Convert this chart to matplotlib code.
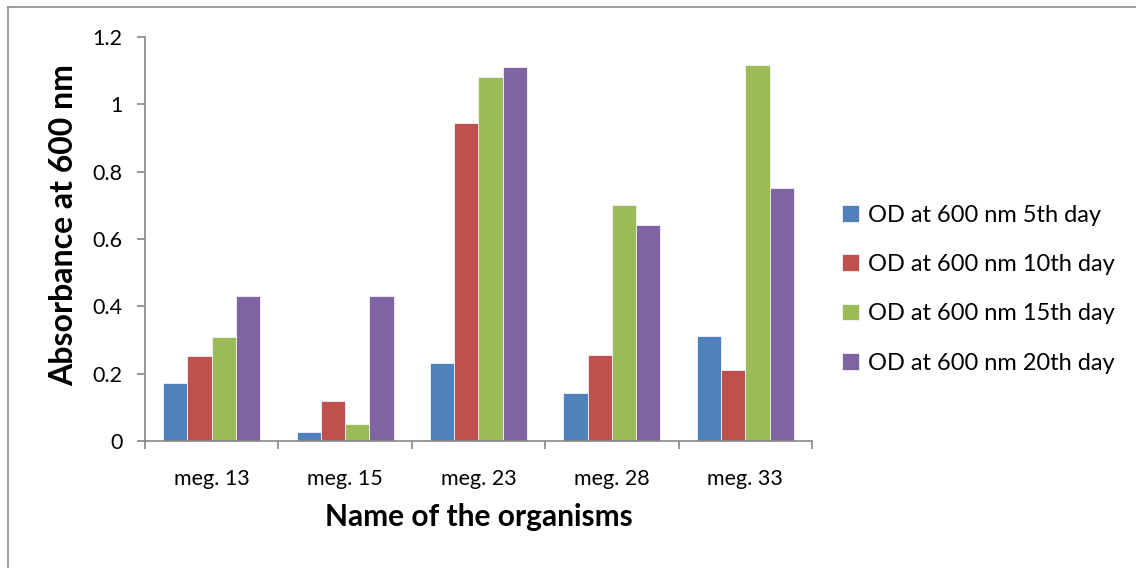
import matplotlib
matplotlib.use("Agg")
import matplotlib.pyplot as plt
from matplotlib.lines import Line2D
import numpy as np

plt.rcParams['font.family'] = ['Lato', 'DejaVu Sans']

categories = ["meg. 13", "meg. 15", "meg. 23", "meg. 28", "meg. 33"]
series_names = ["OD at 600 nm 5th day", "OD at 600 nm 10th day",
                "OD at 600 nm 15th day", "OD at 600 nm 20th day"]
od_5th = [0.173, 0.027, 0.231, 0.143, 0.313]
od_10th = [0.253, 0.118, 0.944, 0.255, 0.212]
od_15th = [0.310, 0.051, 1.081, 0.702, 1.117]
od_20th = [0.432, 0.432, 1.111, 0.642, 0.752]
colors = ["#4F81BD", "#C0504D", "#9BBB59", "#8064A2"]

series = [od_5th, od_10th, od_15th, od_20th]

fig = plt.figure(figsize=(11.36, 5.68), dpi=100)
ax = fig.add_axes([145/1136, 1-441/568, (812-145)/1136, (441-37)/568])

x = np.arange(len(categories))
w = 1/5.5
for i, (vals, name, c) in enumerate(zip(series, series_names, colors)):
    ax.bar(x + (i - 1.5) * w, vals, width=w, color=c, label=name,
           edgecolor="#f4f4f4", linewidth=0.6)

axis_col = "#868686"
ax.set_xlim(-0.5, len(categories) - 0.5)
ax.set_ylim(0, 1.2)
ax.set_yticks([0, 0.2, 0.4, 0.6, 0.8, 1.0, 1.2])
ax.set_yticklabels(["0", "0.2", "0.4", "0.6", "0.8", "1", "1.2"])
ax.set_xticks(x)
ax.set_xticklabels(categories)
ax.set_xticks(np.arange(-0.5, len(categories), 1.0), minor=True)
ax.tick_params(axis='x', which='major', length=0, pad=20, labelsize=15.5)
ax.tick_params(axis='x', which='minor', length=6, width=1.2, color=axis_col, direction='out')
ax.tick_params(axis='y', length=6, width=1.2, color=axis_col, direction='out', pad=10, labelsize=15.5)
for s in ["top", "right"]:
    ax.spines[s].set_visible(False)
for s in ["left", "bottom"]:
    ax.spines[s].set_color(axis_col)
    ax.spines[s].set_linewidth(1.2)

ax.set_ylabel("Absorbance at 600 nm", fontsize=23, fontweight='bold')
ax.yaxis.set_label_coords(-0.100, 0.535)
ax.set_xlabel("Name of the organisms", fontsize=21.5, fontweight='bold', labelpad=10)

leg = ax.legend(loc='center left', frameon=False, fontsize=17,
                handlelength=0.7, handleheight=0.7,
                handletextpad=0.4, labelspacing=1.2, borderaxespad=0)
leg.set_bbox_to_anchor((833/1136, 1-289/568), transform=fig.transFigure)

# outer chart-area frame (top and left edges)
fig.add_artist(Line2D([8/1136, 1.0], [1-7/568, 1-7/568], transform=fig.transFigure,
                      color="#8c8c8c", linewidth=1.2))
fig.add_artist(Line2D([8/1136, 8/1136], [0.0, 1-7/568], transform=fig.transFigure,
                      color="#8c8c8c", linewidth=1.2))

fig.savefig("out.png", dpi=100, facecolor="white")
